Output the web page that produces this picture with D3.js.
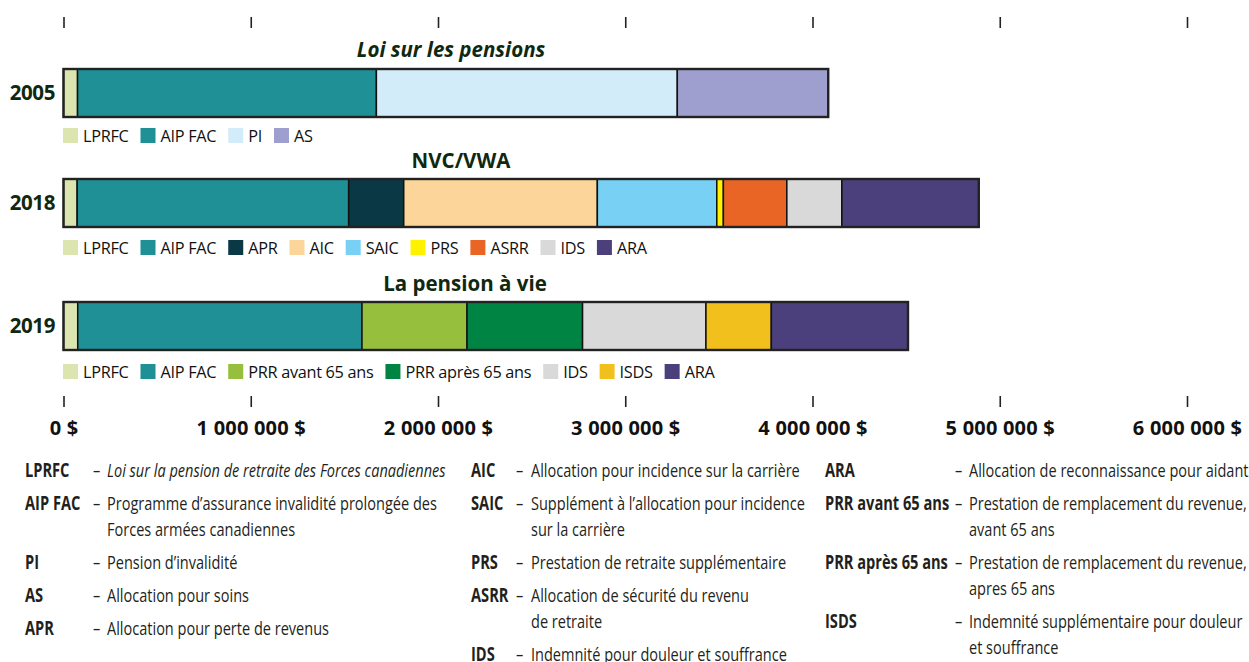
<!DOCTYPE html>
<html>
<head>
<meta charset="utf-8">
<script src="https://cdn.jsdelivr.net/npm/d3@7"></script>
<style>
  body { margin: 0; background: #fff; }
  svg { display: block; }
</style>
</head>
<body>
<div id="chart"></div>
<script>
// --- data ---
var years = ["2005", "2018", "2019"];
var titles = ["Loi sur les pensions", "NVC/VWA", "La pension à vie"];

var cats2005 = ["LPRFC", "AIP FAC", "PI", "AS"];
var vals2005 = [75000, 1596000, 1607000, 806000];

var cats2018 = ["LPRFC", "AIP FAC", "APR", "AIC", "SAIC", "PRS", "ASRR", "IDS", "ARA"];
var vals2018 = [73000, 1450000, 294000, 1034000, 638000, 35000, 339000, 294000, 731000];

var cats2019 = ["LPRFC", "AIP FAC", "PRR avant 65 ans", "PRR après 65 ans", "IDS", "ISDS", "ARA"];
var vals2019 = [76000, 1518000, 561000, 617000, 659000, 349000, 730000];

var tickValues = [0, 1000000, 2000000, 3000000, 4000000, 5000000, 6000000];
var tickLabels = ["0 $", "1 000 000 $", "2 000 000 $", "3 000 000 $", "4 000 000 $", "5 000 000 $", "6 000 000 $"];

var colorKeys = ["LPRFC", "AIP FAC", "PI", "AS", "APR", "AIC", "SAIC", "PRS", "ASRR", "IDS", "ARA",
                 "PRR avant 65 ans", "PRR après 65 ans", "ISDS"];
var colorVals = ["#dce5b0", "#1e9096", "#d3ecf9", "#9e9fce", "#0a3844", "#fbd599", "#78d1f5", "#fff200",
                 "#e86526", "#d8d9d8", "#4b407b", "#95bf3d", "#008444", "#f2c01d"];

// glossary: abbreviation, definition lines, column
var glossAbbr = ["LPRFC", "AIP FAC", "PI", "AS", "APR",
                 "AIC", "SAIC", "PRS", "ASRR", "IDS",
                 "ARA", "PRR avant 65 ans", "PRR après 65 ans", "ISDS"];
var glossText = [
  ["Loi sur la pension de retraite des Forces canadiennes"],
  ["Programme d’assurance invalidité prolongée des", "Forces armées canadiennes"],
  ["Pension d’invalidité"],
  ["Allocation pour soins"],
  ["Allocation pour perte de revenus"],
  ["Allocation pour incidence sur la carrière"],
  ["Supplément à l’allocation pour incidence", "sur la carrière"],
  ["Prestation de retraite supplémentaire"],
  ["Allocation de sécurité du revenu", "de retraite"],
  ["Indemnité pour douleur et souffrance"],
  ["Allocation de reconnaissance pour aidant"],
  ["Prestation de remplacement du revenue,", "avant 65 ans"],
  ["Prestation de remplacement du revenue,", "apres 65 ans"],
  ["Indemnité supplémentaire pour douleur", "et souffrance"]
];
var glossCol = [0, 0, 0, 0, 0, 1, 1, 1, 1, 1, 2, 2, 2, 2];

// --- layout ---
var W = 1249, H = 662;
var barH = 48;
var panels = [
  {cats: cats2005, vals: vals2005, barY: 69, titleX: 451, titleY: 57, italic: true, legY: 128},
  {cats: cats2018, vals: vals2018, barY: 179, titleX: 461, titleY: 168, italic: false, legY: 240},
  {cats: cats2019, vals: vals2019, barY: 302, titleX: 465, titleY: 291, italic: false, legY: 364}
];
var cols = [
  {abbrX: 25, dashX: 93, textX: 107},
  {abbrX: 471, dashX: 516, textX: 531},
  {abbrX: 825, dashX: 955, textX: 969}
];

var color = d3.scaleOrdinal().domain(colorKeys).range(colorVals);
var darkGreen = "#10280f";
var sansFont = "'Open Sans', sans-serif";
// no condensed face available, so glossary text is squeezed horizontally
var squeeze = 0.765, squeezeBold = 0.77;

var x = d3.scaleLinear()
    .domain([0, 6000000])
    .range([63.5, 1187]);

var svg = d3.select("#chart").append("svg")
    .attr("width", W)
    .attr("height", H);

svg.append("rect").attr("width", W).attr("height", H).attr("fill", "#fff");

// top ticks (no labels)
var topAxis = svg.append("g")
    .attr("transform", "translate(0,17)")
    .call(d3.axisBottom(x).tickValues(tickValues).tickSize(11).tickFormat(""));
topAxis.select(".domain").remove();
topAxis.selectAll(".tick line").attr("stroke", "#222").attr("stroke-width", 1.6);

// bottom axis
var botAxis = svg.append("g")
    .attr("transform", "translate(0,396)")
    .call(d3.axisBottom(x).tickValues(tickValues).tickSize(11)
      .tickFormat(function(d, i) { return tickLabels[i]; }));
botAxis.select(".domain").remove();
botAxis.selectAll(".tick line").attr("stroke", "#222").attr("stroke-width", 1.6);
botAxis.selectAll(".tick text")
    .attr("y", 23)
    .attr("dy", "0.8em")
    .attr("fill", "#111")
    .style("font-family", sansFont)
    .style("font-weight", "700")
    .style("font-size", "20px")
    .style("letter-spacing", "0.2px");

// panels
panels.forEach(function(p, pi) {
  var g = svg.append("g").attr("class", "panel");
  var segs = [];
  var acc = 0;
  p.cats.forEach(function(c, i) {
    segs.push({cat: c, x0: acc, x1: acc + p.vals[i]});
    acc += p.vals[i];
  });

  g.append("text")
    .attr("x", p.titleX)
    .attr("y", p.titleY)
    .attr("text-anchor", "middle")
    .attr("fill", darkGreen)
    .style("font-family", sansFont)
    .style("font-weight", "700")
    .style("font-style", p.italic ? "italic" : "normal")
    .style("font-size", "20.5px")
    .text(titles[pi]);

  g.append("text")
    .attr("x", 55)
    .attr("y", p.barY + barH / 2 + 7)
    .attr("text-anchor", "end")
    .attr("fill", darkGreen)
    .style("font-family", sansFont)
    .style("font-weight", "700")
    .style("font-size", "20.5px")
    .style("letter-spacing", "-0.4px")
    .text(years[pi]);

  g.selectAll("rect.seg")
    .data(segs).enter()
    .append("rect")
    .attr("class", "seg")
    .attr("x", function(d) { return x(d.x0); })
    .attr("y", p.barY)
    .attr("width", function(d) { return x(d.x1) - x(d.x0); })
    .attr("height", barH)
    .attr("fill", function(d) { return color(d.cat); })
    .attr("stroke", "#111")
    .attr("stroke-width", 1.5);

  g.append("rect")
    .attr("x", x(0))
    .attr("y", p.barY)
    .attr("width", x(acc) - x(0))
    .attr("height", barH)
    .attr("fill", "none")
    .attr("stroke", "#222")
    .attr("stroke-width", 2.4);

  // legend
  var lx = x(0) - 0.5;
  p.cats.forEach(function(c) {
    var item = g.append("g").attr("transform", "translate(" + lx + "," + p.legY + ")");
    item.append("rect")
      .attr("width", 15).attr("height", 15)
      .attr("fill", color(c));
    var t = item.append("text")
      .attr("x", 20)
      .attr("y", 14)
      .attr("fill", "#111")
      .style("font-family", sansFont)
      .style("font-size", "16.3px")
      .style("letter-spacing", "-0.3px")
      .text(c);
    lx += 20 + t.node().getComputedTextLength() + 12;
  });
});

// glossary
function squeezed(g, tx, ty, str, bold, italic) {
  return g.append("text")
    .attr("transform", "translate(" + tx + "," + ty + ") scale(" + (bold ? squeezeBold : squeeze) + ",1)")
    .attr("fill", "#231f20")
    .style("font-family", sansFont)
    .style("font-weight", bold ? "700" : "400")
    .style("font-style", italic ? "italic" : "normal")
    .style("font-size", "19px")
    .text(str);
}

var colY = [477, 477, 477];
glossAbbr.forEach(function(a, i) {
  var ci = glossCol[i];
  var c = cols[ci];
  var y = colY[ci];
  var g = svg.append("g").attr("class", "gloss");
  squeezed(g, c.abbrX, y, a, true, false);
  squeezed(g, c.dashX, y, "–", false, false);
  glossText[i].forEach(function(line, li) {
    squeezed(g, c.textX, y + li * 26, line, false, i === 0);
  });
  colY[ci] = y + (glossText[i].length - 1) * 26 + 33;
});
</script>
</body>
</html>
